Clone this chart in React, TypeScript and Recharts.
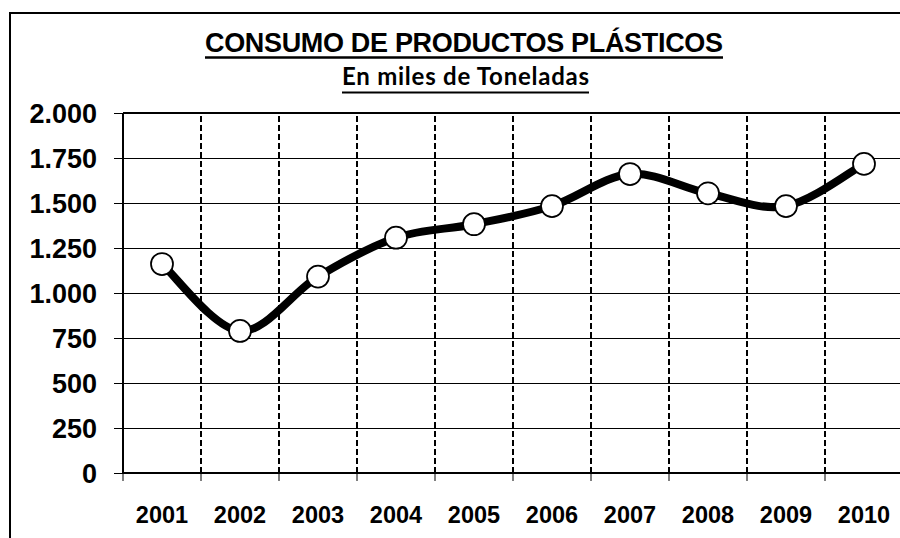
import React from 'react';
import { LineChart, Line, XAxis, YAxis, CartesianGrid, ReferenceLine } from 'recharts';

const years = ['2001', '2002', '2003', '2004', '2005', '2006', '2007', '2008', '2009', '2010'];
const consumo = [1161, 789, 1091, 1307, 1382, 1483, 1661, 1554, 1483, 1717];
const yTicks = [0, 250, 500, 750, 1000, 1250, 1500, 1750, 2000];
const title = 'CONSUMO DE PRODUCTOS PLÁSTICOS';
const subtitle = 'En miles de Toneladas';

const data = years.map((year, i) => ({ year, pos: i + 0.5, value: consumo[i] }));
const xTicks: number[] = [];
for (let i = 0; i <= years.length * 2; i++) xTicks.push(i / 2);
const boundaries = years.slice(1).map((_, i) => i + 1);

const fmt = (v: number) =>
  v >= 1000 ? `${Math.floor(v / 1000)}.${String(v % 1000).padStart(3, '0')}` : String(v);

// Catmull-Rom style smoothing similar to spreadsheet "smoothed line"
const smoothCurve = (context: any) => {
  let pts: [number, number][] = [];
  return {
    areaStart() {},
    areaEnd() {},
    lineStart() {
      pts = [];
    },
    point(x: number, y: number) {
      pts.push([+x, +y]);
    },
    lineEnd() {
      const n = pts.length;
      if (!n) return;
      context.moveTo(pts[0][0], pts[0][1]);
      for (let i = 0; i < n - 1; i++) {
        const p0 = pts[Math.max(0, i - 1)];
        const p1 = pts[i];
        const p2 = pts[i + 1];
        const p3 = pts[Math.min(n - 1, i + 2)];
        context.bezierCurveTo(
          p1[0] + (p2[0] - p0[0]) / 6,
          p1[1] + (p2[1] - p0[1]) / 6,
          p2[0] - (p3[0] - p1[0]) / 6,
          p2[1] - (p3[1] - p1[1]) / 6,
          p2[0],
          p2[1]
        );
      }
    },
  };
};

const XTick = (props: any) => {
  const { x, y, payload } = props;
  const v = payload.value as number;
  if (Number.isInteger(v)) {
    return <line x1={x} x2={x} y1={y} y2={y + 8} stroke="#000" strokeWidth={1} />;
  }
  return (
    <text
      x={x}
      y={y + 49.5}
      textAnchor="middle"
      fontFamily="'Liberation Sans', Arial, sans-serif"
      fontWeight="bold"
      fontSize={23.5}
      fill="#000"
    >
      {years[Math.floor(v)]}
    </text>
  );
};

export default function App() {
  return (
    <div
      style={{
        position: 'absolute',
        left: 0,
        top: 0,
        width: 900,
        height: 538,
        overflow: 'hidden',
        background: '#fff',
      }}
    >
      <div
        style={{
          position: 'absolute',
          left: 9,
          top: 12,
          width: 1000,
          height: 1000,
          borderLeft: '2px solid #000',
          borderTop: '2px solid #000',
        }}
      />
      <div style={{ position: 'absolute', left: 0, top: 0 }}>
        <LineChart
          width={910}
          height={538}
          data={data}
          margin={{ top: 113, right: 7, bottom: 15, left: 0 }}
        >
          <CartesianGrid
            vertical={false}
            stroke="#000"
            strokeWidth={1}
            shapeRendering="crispEdges"
          />
          {boundaries.map((b) => (
            <ReferenceLine key={b} x={b} stroke="#000" strokeWidth={2} strokeDasharray="6 3" />
          ))}
          <ReferenceLine y={2000} stroke="#000" strokeWidth={2} />
          <XAxis
            dataKey="pos"
            type="number"
            domain={[0, years.length]}
            ticks={xTicks}
            interval={0}
            tickLine={false}
            tickSize={0}
            tickMargin={0}
            tick={<XTick />}
            axisLine={{ stroke: '#000', strokeWidth: 2 }}
            height={50}
            allowDecimals
          />
          <YAxis
            type="number"
            domain={[0, 2000]}
            ticks={yTicks}
            interval={0}
            width={123}
            tickSize={9}
            tickMargin={17}
            tickFormatter={fmt}
            axisLine={{ stroke: '#000', strokeWidth: 2 }}
            tickLine={{ stroke: '#000', strokeWidth: 1, shapeRendering: 'crispEdges' }}
            tick={{
              fill: '#000',
              fontSize: 27,
              fontWeight: 'bold',
              fontFamily: "'Liberation Sans', Arial, sans-serif",
            }}
          />
          <Line
            dataKey="value"
            type={smoothCurve as any}
            stroke="#000"
            strokeWidth={8}
            dot={{ r: 11, fill: '#fff', stroke: '#000', strokeWidth: 1.75 }}
            activeDot={false}
            isAnimationActive={false}
          />
        </LineChart>
      </div>
      <svg
        width={900}
        height={110}
        style={{ position: 'absolute', left: 0, top: 0, pointerEvents: 'none' }}
      >
        <text
          x={205}
          y={52}
          textLength={518}
          fontFamily="'Liberation Sans', Arial, sans-serif"
          fontWeight="bold"
          fontSize={27}
          fill="#000"
        >
          {title}
        </text>
        <line x1={205} x2={723} y1={57.5} y2={57.5} stroke="#000" strokeWidth={2.5} />
        <text
          x={342}
          y={85}
          textLength={247}
          fontFamily="Lato, 'Open Sans', sans-serif"
          fontWeight="bold"
          fontSize={24}
          fill="#000"
        >
          {subtitle}
        </text>
        <line x1={342} x2={589} y1={92.5} y2={92.5} stroke="#000" strokeWidth={2} />
      </svg>
    </div>
  );
}
